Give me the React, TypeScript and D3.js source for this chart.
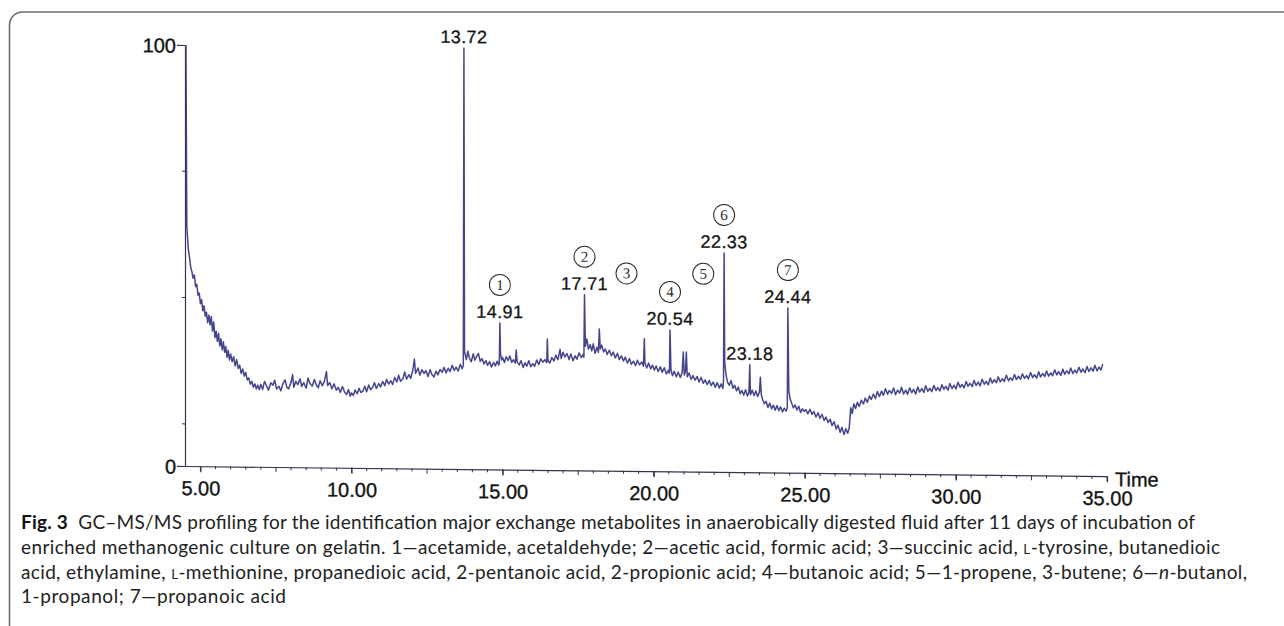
import { useEffect, useRef } from "react";
import * as d3 from "d3";

type Pt = [number, number];

// retention time (min), relative abundance (%)
const solventFront: Pt[] = [
  [4.52, 100], [4.55, 57], [4.6, 51.5], [4.64, 49.5], [4.68, 47.2], [4.72, 46.1], [4.76, 44.6],
  [4.8, 45.4], [4.84, 42.6], [4.88, 43.2], [4.92, 40.6], [4.96, 41.1], [5.0, 38.6], [5.04, 39.6],
  [5.08, 36.9], [5.12, 38.1], [5.16, 35.6], [5.2, 36.6], [5.24, 34.1], [5.28, 35.9], [5.32, 33.6],
  [5.36, 35.6], [5.4, 32.1], [5.44, 34.3], [5.48, 30.6], [5.52, 32.1], [5.56, 29.7], [5.6, 31.6],
  [5.64, 28.6], [5.68, 30.3], [5.72, 27.7], [5.76, 29.6], [5.8, 27.1], [5.84, 28.5], [5.88, 25.9],
  [5.92, 27.6], [5.96, 25.3], [6.0, 26.7], [6.05, 24.9], [6.1, 26.1], [6.15, 23.9], [6.2, 25.4],
  [6.25, 23.3], [6.3, 24.1], [6.35, 22.1], [6.4, 23.2], [6.45, 21.5], [6.5, 22.4], [6.55, 20.6],
  [6.6, 21.1], [6.65, 19.6], [6.7, 20.3], [6.75, 18.9], [6.8, 19.7], [6.85, 18.5], [6.9, 19.4],
  [6.95, 18.3],
];

const trace7to10: Pt[] = [
  [7.0, 19.6], [7.06, 18.4], [7.12, 20.3], [7.2, 19.1], [7.25, 18.2], [7.33, 20.0], [7.4, 19.4],
  [7.46, 20.6], [7.52, 18.5], [7.6, 19.2], [7.66, 18.1], [7.73, 19.8], [7.8, 20.7], [7.86, 19.0],
  [7.92, 18.6], [8.0, 20.2], [8.05, 22.0], [8.09, 19.0], [8.16, 20.4], [8.22, 19.6], [8.3, 21.0],
  [8.35, 19.2], [8.42, 20.1], [8.5, 18.8], [8.56, 21.2], [8.62, 20.0], [8.7, 19.3], [8.77, 20.9],
  [8.83, 19.7], [8.9, 18.9], [8.96, 20.6], [9.03, 19.4], [9.1, 20.4], [9.17, 22.8], [9.21, 19.5],
  [9.28, 20.2], [9.35, 18.7], [9.42, 19.9], [9.5, 18.4], [9.56, 19.1], [9.63, 17.9], [9.7, 19.3],
  [9.77, 18.0], [9.84, 17.4], [9.9, 18.6], [9.96, 17.0], [10.0, 17.8],
];

const trace10to15: Pt[] = [
  [10.06, 17.2], [10.12, 18.5], [10.19, 17.6], [10.25, 18.9], [10.31, 17.9], [10.38, 18.3],
  [10.44, 19.4], [10.5, 18.1], [10.57, 19.7], [10.63, 18.6], [10.7, 19.2], [10.76, 20.3],
  [10.82, 18.9], [10.9, 20.1], [10.96, 19.3], [11.03, 20.6], [11.1, 19.6], [11.16, 21.1],
  [11.23, 20.0], [11.3, 20.8], [11.36, 19.9], [11.43, 21.6], [11.5, 20.5], [11.56, 22.1],
  [11.62, 20.7], [11.7, 21.3], [11.76, 22.9], [11.82, 21.2], [11.9, 22.3], [11.96, 21.4],
  [12.03, 23.4], [12.08, 26.0], [12.12, 22.6], [12.2, 23.9], [12.26, 22.2], [12.33, 23.5],
  [12.4, 22.6], [12.46, 23.3], [12.53, 21.9], [12.6, 23.5], [12.66, 22.4], [12.73, 21.8],
  [12.8, 23.2], [12.86, 22.3], [12.93, 23.6], [13.0, 22.9], [13.06, 24.1], [13.13, 22.8],
  [13.2, 23.9], [13.26, 23.1], [13.33, 24.6], [13.4, 23.4], [13.46, 24.2], [13.53, 23.3],
  [13.6, 24.9], [13.66, 23.8], [13.7, 24.6], [13.72, 100], [13.74, 27.9], [13.8, 26.0],
  [13.85, 28.0], [13.9, 26.4], [13.96, 25.5], [14.03, 27.4], [14.08, 25.9], [14.14, 26.8],
  [14.2, 27.5], [14.26, 25.6], [14.32, 26.3], [14.38, 25.0], [14.45, 25.8], [14.5, 24.7],
  [14.57, 25.6], [14.63, 24.3], [14.7, 25.4], [14.76, 24.6], [14.82, 25.7], [14.87, 24.8],
  [14.89, 25.2], [14.91, 34.8], [14.93, 27.6], [14.97, 26.0], [15.0, 26.6],
];

const trace15to20: Pt[] = [
  [15.06, 25.4], [15.12, 26.8], [15.18, 25.9], [15.24, 27.0], [15.3, 25.5], [15.36, 26.1],
  [15.42, 25.3], [15.45, 28.4], [15.48, 25.6], [15.55, 24.9], [15.61, 25.9], [15.68, 24.3],
  [15.74, 25.4], [15.8, 24.6], [15.87, 25.9], [15.93, 24.5], [16.0, 25.2], [16.06, 24.6],
  [16.13, 26.1], [16.2, 25.0], [16.26, 26.4], [16.33, 25.6], [16.4, 26.2], [16.46, 25.5],
  [16.48, 31.1], [16.5, 26.0], [16.56, 25.4], [16.63, 26.7], [16.7, 25.9], [16.76, 27.3],
  [16.83, 26.2], [16.9, 28.7], [16.94, 26.5], [17.0, 28.0], [17.06, 26.9], [17.13, 27.7],
  [17.2, 26.3], [17.26, 27.6], [17.33, 26.0], [17.4, 27.2], [17.46, 26.4], [17.53, 27.9],
  [17.6, 26.8], [17.66, 27.5], [17.69, 26.9], [17.71, 41.7], [17.74, 29.5], [17.79, 31.2],
  [17.84, 28.8], [17.9, 29.9], [17.95, 28.4], [18.0, 30.1], [18.06, 27.8], [18.12, 29.3],
  [18.17, 28.1], [18.2, 33.6], [18.23, 28.9], [18.28, 29.8], [18.34, 28.2], [18.4, 28.9],
  [18.46, 27.6], [18.53, 28.6], [18.6, 27.3], [18.66, 28.2], [18.73, 26.8], [18.8, 27.9],
  [18.86, 26.4], [18.93, 27.3], [19.0, 26.1], [19.06, 27.0], [19.13, 25.6], [19.2, 26.7],
  [19.26, 25.3], [19.33, 26.1], [19.4, 25.0], [19.46, 26.3], [19.53, 25.2], [19.6, 25.9],
  [19.66, 24.9], [19.69, 31.4], [19.71, 25.6], [19.77, 24.5], [19.83, 25.7], [19.9, 24.3],
  [19.96, 25.2],
];

const trace20to25: Pt[] = [
  [20.02, 24.0], [20.08, 25.0], [20.15, 23.7], [20.22, 24.8], [20.28, 23.5], [20.35, 24.6],
  [20.42, 23.1], [20.48, 24.0], [20.52, 23.3], [20.54, 33.6], [20.57, 24.2], [20.62, 22.7],
  [20.68, 23.8], [20.75, 22.5], [20.81, 23.6], [20.88, 22.3], [20.94, 23.5], [20.98, 28.4],
  [21.01, 22.9], [21.05, 23.7], [21.08, 28.4], [21.11, 22.5], [21.17, 23.4], [21.24, 21.9],
  [21.3, 22.8], [21.37, 21.7], [21.44, 22.6], [21.5, 21.3], [21.57, 22.4], [21.64, 21.0],
  [21.7, 21.8], [21.77, 20.7], [21.84, 21.7], [21.9, 20.5], [21.97, 21.3], [22.04, 20.1],
  [22.1, 21.2], [22.17, 19.9], [22.23, 20.9], [22.29, 19.8], [22.31, 21.8], [22.33, 52],
  [22.35, 25.9], [22.39, 23.2], [22.44, 21.4], [22.5, 20.6], [22.56, 21.7], [22.62, 19.9],
  [22.68, 20.6], [22.74, 19.3], [22.8, 20.2], [22.86, 18.6], [22.92, 19.4], [22.98, 18.3],
  [23.04, 19.6], [23.1, 18.1], [23.15, 19.0], [23.18, 25.5], [23.2, 18.4], [23.26, 19.5],
  [23.32, 18.2], [23.38, 19.3], [23.44, 18.0], [23.5, 19.1], [23.53, 22.6], [23.56, 18.5],
  [23.61, 17.2], [23.66, 16.3], [23.72, 16.9], [23.78, 15.4], [23.84, 16.5], [23.9, 15.1],
  [23.96, 16.0], [24.02, 14.8], [24.08, 15.9], [24.14, 14.7], [24.2, 15.6], [24.26, 14.4],
  [24.32, 15.3], [24.38, 14.6], [24.42, 15.4], [24.44, 39.1], [24.47, 19.6], [24.51, 17.6],
  [24.56, 16.6], [24.62, 15.4], [24.68, 16.1], [24.74, 14.9], [24.8, 15.8], [24.86, 14.3],
  [24.92, 15.2], [24.98, 14.6],
];

const trace25to35: Pt[] = [
  [25.04, 15.0], [25.1, 14.0], [25.17, 15.1], [25.24, 13.9], [25.3, 14.6], [25.37, 13.3],
  [25.44, 14.3], [25.5, 13.0], [25.57, 13.9], [25.64, 12.5], [25.7, 13.3], [25.77, 12.0],
  [25.84, 12.8], [25.9, 11.3], [25.97, 12.2], [26.04, 10.5], [26.1, 11.4], [26.17, 9.7],
  [26.23, 10.9], [26.3, 9.2], [26.36, 10.6], [26.42, 9.5], [26.47, 10.8], [26.52, 15.6],
  [26.57, 14.2], [26.62, 16.5], [26.68, 15.4], [26.74, 16.9], [26.8, 15.9], [26.87, 17.4],
  [26.94, 16.5], [27.0, 17.9], [27.07, 16.9], [27.14, 18.4], [27.2, 17.6], [27.27, 18.9],
  [27.34, 17.8], [27.4, 19.5], [27.47, 18.3], [27.54, 19.6], [27.6, 18.6], [27.67, 20.2],
  [27.74, 18.9], [27.8, 19.8], [27.87, 19.1], [27.94, 20.4], [28.0, 18.8], [28.07, 19.9],
  [28.14, 19.2], [28.2, 20.6], [28.27, 19.0], [28.34, 19.9], [28.4, 18.9], [28.47, 20.5],
  [28.54, 19.3], [28.6, 20.1], [28.67, 19.0], [28.74, 20.7], [28.8, 19.5], [28.87, 20.3],
  [28.94, 19.4], [29.0, 21.0], [29.07, 19.7], [29.14, 20.4], [29.2, 19.6], [29.27, 21.1],
  [29.34, 19.9], [29.4, 20.6], [29.47, 19.8], [29.54, 21.3], [29.6, 20.2], [29.67, 20.9],
  [29.74, 20.0], [29.8, 21.6], [29.87, 20.4], [29.94, 21.2], [30.0, 20.3], [30.07, 21.9],
  [30.14, 20.7], [30.2, 21.4], [30.27, 20.6], [30.34, 22.1], [30.4, 21.0], [30.47, 21.7],
  [30.54, 20.9], [30.6, 22.4], [30.67, 21.2], [30.74, 22.0], [30.8, 21.1], [30.87, 22.7],
  [30.94, 21.5], [31.0, 22.2], [31.07, 21.4], [31.14, 23.0], [31.2, 21.8], [31.27, 22.6],
  [31.34, 21.9], [31.4, 23.3], [31.47, 22.1], [31.54, 22.9], [31.6, 22.2], [31.67, 23.7],
  [31.74, 22.4], [31.8, 23.1], [31.87, 22.5], [31.94, 23.9], [32.0, 22.7], [32.07, 23.5],
  [32.14, 22.8], [32.2, 24.1], [32.27, 23.0], [32.34, 23.7], [32.4, 22.9], [32.47, 24.4],
  [32.54, 23.2], [32.6, 23.9], [32.67, 23.1], [32.74, 24.6], [32.8, 23.4], [32.87, 24.2],
  [32.94, 23.5], [33.0, 24.8], [33.07, 23.6], [33.14, 24.4], [33.2, 23.7], [33.27, 25.1],
  [33.34, 23.9], [33.4, 24.7], [33.47, 23.8], [33.54, 25.3], [33.6, 24.1], [33.67, 24.9],
  [33.74, 24.2], [33.8, 25.6], [33.87, 24.3], [33.94, 25.1], [34.0, 24.4], [34.07, 25.8],
  [34.14, 24.6], [34.2, 25.4], [34.27, 24.5], [34.34, 26.0], [34.4, 24.8], [34.47, 25.7],
  [34.54, 24.9], [34.6, 26.3], [34.67, 25.0], [34.74, 25.9], [34.8, 25.2], [34.86, 26.6],
];

// labelled peaks
const peakTimes = [13.72, 14.91, 17.71, 20.54, 22.33, 23.18, 24.44];
const peakApex = [100, 34.8, 41.7, 33.6, 52, 25.5, 39.1];
const peakGroup = ["", "1", "2", "4", "6", "", "7"];

// circled group numbers without a time label
const markerGroups = ["3", "5"];
const markerTimes = [19.1, 21.64];
const markerLevel = [46.9, 47];

const xTickLabels = [5, 10, 15, 20, 25, 30, 35];
const yTickLabels = [0, 100];
const yMinorTicks = [10, 40, 70];

type Seg = { t: string; b?: boolean; i?: boolean; sc?: boolean };
const captionLines: Seg[][] = [
  [
    { t: "Fig. 3", b: true },
    { t: "  GC–MS/MS profiling for the identification major exchange metabolites in anaerobically digested fluid after 11 days of incubation of" },
  ],
  [
    { t: "enriched methanogenic culture on gelatin. 1—acetamide, acetaldehyde; 2—acetic acid, formic acid; 3—succinic acid, " },
    { t: "L", sc: true },
    { t: "-tyrosine, butanedioic" },
  ],
  [
    { t: "acid, ethylamine, " },
    { t: "L", sc: true },
    { t: "-methionine, propanedioic acid, 2-pentanoic acid, 2-propionic acid; 4—butanoic acid; 5—1-propene, 3-butene; 6—" },
    { t: "n", i: true },
    { t: "-butanol," },
  ],
  [{ t: "1-propanol; 7—propanoic acid" }],
];
const captionWidths = [1174, 1199, 1226, 265];

function Chromatogram() {
  const chartRef = useRef<SVGSVGElement>(null);

  useEffect(() => {
    const svg = d3.select(chartRef.current);
    svg.selectAll("*").remove();

    const plot = { left: 185, right: 1107, top: 45, bottom: 466 };
    const ink = "#141414";
    const axisColor = "#34344e";
    const labelFont = "'Liberation Sans', Arial, sans-serif";

    // figure frame
    svg
      .append("rect")
      .attr("x", 9.5)
      .attr("y", 12)
      .attr("width", 1320)
      .attr("height", 660)
      .attr("rx", 13)
      .attr("fill", "none")
      .attr("stroke", "#6e6e6e")
      .attr("stroke-width", 1.6);

    // the scanned plot is slightly tilted
    const g = svg
      .append("g")
      .attr(
        "transform",
        `translate(${plot.left},${plot.bottom}) skewY(0.63) translate(${-plot.left},${-plot.bottom})`
      );

    const x = d3.scaleLinear().domain([4.49, 35]).range([plot.left, plot.right]);
    const y = d3.scaleLinear().domain([0, 100]).range([plot.bottom, plot.top]);

    const trace = [
      ...solventFront,
      ...trace7to10,
      ...trace10to15,
      ...trace15to20,
      ...trace20to25,
      ...trace25to35,
    ];

    g.append("path")
      .datum(trace)
      .attr("fill", "none")
      .attr("stroke", "#45458e")
      .attr("stroke-width", 1.5)
      .attr("stroke-linejoin", "round")
      .attr(
        "d",
        d3
          .line<Pt>()
          .x((d) => x(d[0]))
          .y((d) => y(d[1]))
      );

    // X axis
    const xAxis = g
      .append("g")
      .attr("transform", `translate(0, ${plot.bottom})`)
      .call(
        d3
          .axisBottom(x)
          .tickValues(xTickLabels)
          .tickFormat(d3.format(".2f"))
          .tickSize(6)
          .tickSizeOuter(0)
      );
    xAxis
      .selectAll("text")
      .attr("y", 29)
      .attr("dy", 0)
      .attr("fill", ink)
      .attr("stroke", ink)
      .attr("stroke-width", 0.35)
      .style("font-family", labelFont)
      .style("font-size", "20px");

    xAxis
      .append("g")
      .selectAll("line")
      .data(d3.range(5, 35.01, 0.5))
      .enter()
      .append("line")
      .attr("x1", (d) => x(d))
      .attr("x2", (d) => x(d))
      .attr("y1", 0)
      .attr("y2", (d) => (d % 2.5 === 0 ? 5 : 3))
      .attr("stroke", axisColor);

    // Y axis
    const yAxis = g
      .append("g")
      .attr("transform", `translate(${plot.left}, 0)`)
      .call(
        d3
          .axisLeft(y)
          .tickValues(yTickLabels)
          .tickFormat(d3.format("d"))
          .tickSize(8)
          .tickSizeOuter(0)
          .tickPadding(1)
      );
    yAxis
      .selectAll("text")
      .attr("dy", "0.36em")
      .attr("fill", ink)
      .attr("stroke", ink)
      .attr("stroke-width", 0.35)
      .style("font-family", labelFont)
      .style("font-size", "20px");

    yAxis
      .append("g")
      .selectAll("line")
      .data(yMinorTicks)
      .enter()
      .append("line")
      .attr("x1", -3)
      .attr("x2", 0)
      .attr("y1", (d) => y(d))
      .attr("y2", (d) => y(d))
      .attr("stroke", axisColor);

    g.selectAll(".domain, .tick line")
      .attr("stroke", axisColor)
      .attr("stroke-width", 1.2);

    // Axis title
    g.append("text")
      .attr("x", x(35) + 8)
      .attr("y", y(0) + 10)
      .attr("fill", ink)
      .attr("stroke", ink)
      .attr("stroke-width", 0.35)
      .style("font-family", labelFont)
      .style("font-size", "20px")
      .text("Time");

    // Peak labels
    const peaks = peakTimes.map((t, i) => ({ t, apex: peakApex[i], group: peakGroup[i] }));

    g.append("g")
      .selectAll("text")
      .data(peaks)
      .enter()
      .append("text")
      .attr("x", (d) => x(d.t))
      .attr("y", (d) => y(d.apex) - 5)
      .attr("text-anchor", "middle")
      .attr("fill", ink)
      .attr("stroke", ink)
      .attr("stroke-width", 0.3)
      .style("font-family", labelFont)
      .style("font-size", "18px")
      .style("letter-spacing", "0.4px")
      .text((d) => d.t.toFixed(2));

    const circled = [
      ...peaks
        .filter((d) => d.group)
        .map((d) => ({ cx: x(d.t), cy: y(d.apex) - 38, n: d.group })),
      ...markerGroups.map((n, i) => ({ cx: x(markerTimes[i]), cy: y(markerLevel[i]), n })),
    ];

    const marks = g.append("g").selectAll("g").data(circled).enter().append("g");
    marks
      .append("circle")
      .attr("cx", (d) => d.cx)
      .attr("cy", (d) => d.cy)
      .attr("r", 10.5)
      .attr("fill", "none")
      .attr("stroke", "#2a2a2a")
      .attr("stroke-width", 1);
    marks
      .append("text")
      .attr("x", (d) => d.cx)
      .attr("y", (d) => d.cy + 5)
      .attr("text-anchor", "middle")
      .attr("fill", "#2a2a2a")
      .style("font-family", "'Liberation Serif', 'Times New Roman', serif")
      .style("font-size", "15px")
      .text((d) => d.n);

    // Caption
    const caption = svg.append("g");
    captionLines.forEach((segs, li) => {
      const line = caption
        .append("text")
        .attr("x", 21)
        .attr("y", 529 + li * 24.8)
        .attr("fill", "#222")
        .style("font-family", "Lato, 'Open Sans', sans-serif")
        .style("font-size", "19px")
        .style("white-space", "pre");
      if (captionWidths[li]) {
        line.attr("textLength", captionWidths[li]).attr("lengthAdjust", "spacing");
      }
      segs.forEach((s) => {
        const span = line.append("tspan").text(s.t);
        if (s.b) span.style("font-weight", "bold").attr("fill", "#111");
        if (s.i) span.style("font-style", "italic");
        if (s.sc) span.style("font-size", "13.5px");
      });
    });

    return () => {
      svg.selectAll("*").remove();
    };
  }, []);

  return (
    <svg
      ref={chartRef}
      width={1284}
      height={626}
      style={{ position: "absolute", left: 0, top: 0, background: "#fff" }}
    />
  );
}

export default function App() {
  return <Chromatogram />;
}
